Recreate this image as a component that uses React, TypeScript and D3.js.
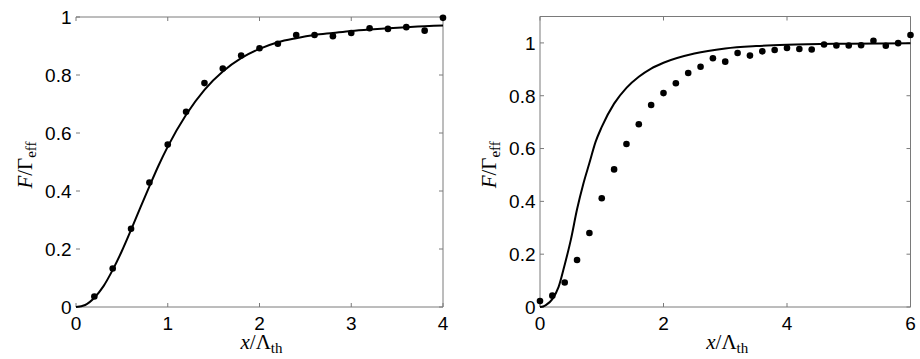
import * as d3 from "d3";
import { useRef, useEffect } from "react";

// left panel: measured points and fitted curve
const leftDotX = [0.2, 0.4, 0.6, 0.8, 1.0, 1.2, 1.4, 1.6, 1.8, 2.0, 2.2, 2.4, 2.6, 2.8, 3.0, 3.2, 3.4, 3.6, 3.8, 4.0];
const leftDotY = [0.036, 0.133, 0.270, 0.429, 0.560, 0.673, 0.772, 0.822, 0.867, 0.892, 0.908, 0.938, 0.938, 0.934, 0.945, 0.961, 0.959, 0.965, 0.953, 0.997];
const leftCurveX = [0, 0.1, 0.2, 0.3, 0.4, 0.5, 0.6, 0.7, 0.8, 0.9, 1.0, 1.2, 1.4, 1.6, 1.8, 2.0, 2.2, 2.4, 2.6, 2.8, 3.0, 3.2, 3.4, 3.6, 3.8, 4.0];
const leftCurveY = [0, 0.007, 0.032, 0.072, 0.128, 0.193, 0.266, 0.342, 0.416, 0.488, 0.553, 0.663, 0.749, 0.812, 0.858, 0.890, 0.913, 0.927, 0.938, 0.945, 0.952, 0.957, 0.961, 0.965, 0.968, 0.971];
const leftXTicks = [0, 1, 2, 3, 4];

// right panel
const rightDotX = [0, 0.2, 0.4, 0.6, 0.8, 1.0, 1.2, 1.4, 1.6, 1.8, 2.0, 2.2, 2.4, 2.6, 2.8, 3.0, 3.2, 3.4, 3.6, 3.8, 4.0, 4.2, 4.4, 4.6, 4.8, 5.0, 5.2, 5.4, 5.6, 5.8, 6.0];
const rightDotY = [0.023, 0.043, 0.093, 0.178, 0.280, 0.412, 0.521, 0.617, 0.692, 0.765, 0.810, 0.847, 0.886, 0.910, 0.942, 0.929, 0.962, 0.952, 0.968, 0.973, 0.981, 0.977, 0.975, 0.994, 0.990, 0.990, 0.991, 1.008, 0.989, 0.999, 1.030];
const rightCurveX = [0, 0.05, 0.1, 0.2, 0.3, 0.4, 0.5, 0.6, 0.7, 0.8, 0.9, 1.0, 1.2, 1.4, 1.6, 1.8, 2.0, 2.5, 3.0, 3.5, 4.0, 5.0, 6.0];
const rightCurveY = [0, 0.002, 0.008, 0.030, 0.075, 0.160, 0.255, 0.370, 0.465, 0.545, 0.625, 0.682, 0.770, 0.830, 0.872, 0.903, 0.925, 0.960, 0.979, 0.988, 0.993, 0.997, 0.999];
const rightXTicks = [0, 2, 4, 6];

const yTicks = [0, 0.2, 0.4, 0.6, 0.8, 1];

const width = 920;
const height = 359;

const spineColor = "#7a7a7a";
const tickFont = "'Liberation Sans', Arial, sans-serif";
const labelFont = "'Liberation Serif', 'Times New Roman', serif";

function drawPanel(svg, { left, right, top, bottom, xMax, yMax, xTicks, dotX, dotY, curveX, curveY, leftSpine }) {
    const x = d3.scaleLinear().domain([0, xMax]).range([left, right]);
    const y = d3.scaleLinear().domain([0, yMax]).range([bottom, top]);
    const g = svg.append("g");

    // frame
    const frame = g.append("g").attr("stroke", spineColor).attr("stroke-width", 1).attr("fill", "none");
    frame.append("line").attr("x1", left).attr("x2", right).attr("y1", top).attr("y2", top);
    frame.append("line").attr("x1", left).attr("x2", right).attr("y1", bottom).attr("y2", bottom);
    frame.append("line").attr("x1", right).attr("x2", right).attr("y1", top).attr("y2", bottom);
    if (leftSpine) {
        frame.append("line").attr("x1", left).attr("x2", left).attr("y1", top).attr("y2", bottom);
    }

    // inward ticks on all four sides
    const tickLen = 4;
    xTicks.forEach(t => {
        frame.append("line").attr("x1", x(t)).attr("x2", x(t)).attr("y1", bottom).attr("y2", bottom - tickLen);
        frame.append("line").attr("x1", x(t)).attr("x2", x(t)).attr("y1", top).attr("y2", top + tickLen);
    });
    yTicks.forEach(t => {
        frame.append("line").attr("x1", left).attr("x2", left + tickLen).attr("y1", y(t)).attr("y2", y(t));
        frame.append("line").attr("x1", right).attr("x2", right - tickLen).attr("y1", y(t)).attr("y2", y(t));
    });

    // tick labels
    g.append("g")
        .attr("font-family", tickFont)
        .attr("font-size", 19)
        .attr("text-anchor", "middle")
        .selectAll("text")
        .data(xTicks)
        .join("text")
            .attr("x", d => x(d))
            .attr("y", bottom + 23)
            .text(d => d3.format("")(d));

    g.append("g")
        .attr("font-family", tickFont)
        .attr("font-size", 19)
        .attr("text-anchor", "end")
        .selectAll("text")
        .data(yTicks)
        .join("text")
            .attr("x", left - 4.5)
            .attr("y", d => y(d))
            .attr("dy", "0.36em")
            .text(d => d3.format("")(d));

    // fitted curve
    const curve = d3.line()
        .x((d, i) => x(curveX[i]))
        .y(d => y(d))
        .curve(d3.curveMonotoneX);
    g.append("path")
        .attr("d", curve(curveY))
        .attr("fill", "none")
        .attr("stroke", "#000")
        .attr("stroke-width", 2);

    // data points
    g.append("g")
        .selectAll("circle")
        .data(dotY)
        .join("circle")
            .attr("cx", (d, i) => x(dotX[i]))
            .attr("cy", d => y(d))
            .attr("r", 3.3)
            .attr("fill", "#000");

    // axis labels
    const xl = g.append("text")
        .attr("font-family", labelFont)
        .attr("font-size", 21)
        .attr("text-anchor", "middle")
        .attr("x", (left + right) / 2 + 2)
        .attr("y", 349);
    xl.append("tspan").attr("font-style", "italic").text("x");
    xl.append("tspan").text("/Λ");
    xl.append("tspan").attr("font-size", 15).attr("dy", 4).text("th");

    const yl = g.append("text")
        .attr("font-family", labelFont)
        .attr("font-size", 21)
        .attr("text-anchor", "middle")
        .attr("transform", `translate(${left - 44},${(top + bottom) / 2 + 3}) rotate(-90)`);
    yl.append("tspan").attr("font-style", "italic").text("F");
    yl.append("tspan").text("/Γ");
    yl.append("tspan").attr("font-size", 15).attr("dy", 4).text("eff");
}

export default function App() {
    const ref = useRef();

    useEffect(() => {
        const svg = d3.select(ref.current);
        svg.selectAll("*").remove();

        drawPanel(svg, {
            left: 76, right: 443, top: 17, bottom: 307,
            xMax: 4, yMax: 1, xTicks: leftXTicks,
            dotX: leftDotX, dotY: leftDotY, curveX: leftCurveX, curveY: leftCurveY,
            leftSpine: false
        });
        drawPanel(svg, {
            left: 540, right: 910.5, top: 16.5, bottom: 307,
            xMax: 6, yMax: 1.1, xTicks: rightXTicks,
            dotX: rightDotX, dotY: rightDotY, curveX: rightCurveX, curveY: rightCurveY,
            leftSpine: true
        });
    }, []);

    return (
        <svg ref={ref} width={width} height={height}
            style={{ position: "absolute", left: 0, top: 0, background: "#fff" }} />
    );
}
